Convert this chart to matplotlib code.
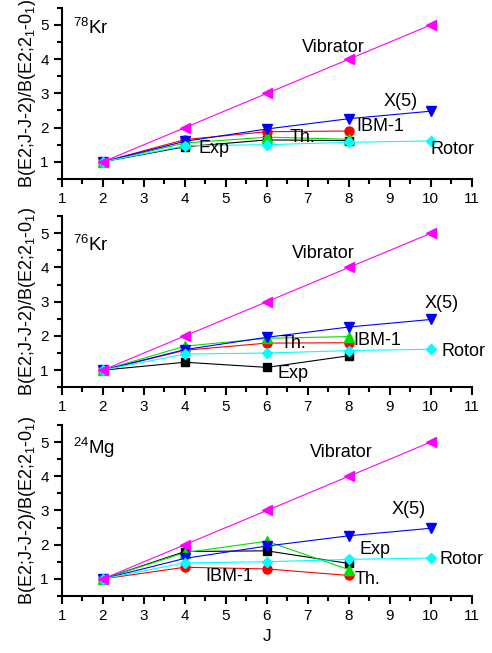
import matplotlib
matplotlib.use("Agg")
import matplotlib.pyplot as plt
from matplotlib.ticker import MultipleLocator

plt.rcParams['font.family'] = ['Liberation Sans', 'DejaVu Sans']
plt.rcParams['mathtext.fontset'] = 'custom'
plt.rcParams['mathtext.rm'] = 'Liberation Sans'
plt.rcParams['mathtext.it'] = 'Liberation Sans:italic'

J_exp = [2, 4, 6, 8]
J_lim = [2, 4, 6, 8, 10]

# model limits (same in every panel)
vibrator = [1, 2, 3, 4, 5]
x5 = [1, 1.60, 1.96, 2.26, 2.48]
rotor = [1, 1.47, 1.50, 1.57, 1.61]

# 78Kr
kr78_exp = [1, 1.44, 1.64, 1.62]
kr78_ibm = [1, 1.65, 1.88, 1.90]
kr78_th = [1, 1.55, 1.72, 1.66]

# 76Kr
kr76_exp = [1, 1.23, 1.08, 1.42]
kr76_ibm = [1, 1.58, 1.79, 1.80]
kr76_th = [1, 1.70, 1.93, 1.98]

# 24Mg
mg24_exp = [1, 1.80, 1.82, 1.45]
mg24_ibm = [1, 1.34, 1.29, 1.10]
mg24_th = [1, 1.77, 2.10, 1.27]

panels = [
    (r'$^{78}$Kr', 4.92, kr78_exp, kr78_ibm, kr78_th,
     [('Vibrator', 6.85, 4.35), ('X(5)', 8.84, 2.75), ('IBM-1', 8.19, 2.02),
      ('Th.', 6.56, 1.71), ('Rotor', 10.0, 1.37), ('Exp', 4.32, 1.39)]),
    (r'$^{76}$Kr', 4.65, kr76_exp, kr76_ibm, kr76_th,
     [('Vibrator', 6.6, 4.41), ('X(5)', 9.84, 2.95), ('IBM-1', 8.1, 1.88),
      ('Th.', 6.33, 1.79), ('Rotor', 10.26, 1.54), ('Exp', 6.25, 0.91)]),
    (r'$^{24}$Mg', 4.82, mg24_exp, mg24_ibm, mg24_th,
     [('Vibrator', 7.05, 4.69), ('X(5)', 9.04, 3.02), ('Exp', 8.25, 1.87),
      ('Th.', 8.15, 0.98), ('Rotor', 10.22, 1.56), ('IBM-1', 4.51, 1.08)]),
]

fig = plt.figure(figsize=(4.92, 6.53), dpi=100)
bottoms = [0.726, 0.407, 0.0873]

for (name, ny, exp, ibm, th, labels), b in zip(panels, bottoms):
    ax = fig.add_axes([0.126, b, 0.833, 0.262])
    ms = 6.5
    ax.plot(J_exp, exp, 's-', color='black', lw=0.8, ms=ms - 0.5)
    ax.plot(J_exp, ibm, 'o-', color='red', lw=0.8, ms=ms)
    ax.plot(J_exp, th, '^-', color='#00e000', lw=0.8, ms=ms)
    ax.plot(J_lim, x5, 'v-', color='blue', lw=0.8, ms=ms)
    ax.plot(J_lim, rotor, 'D-', color='cyan', lw=0.8, ms=ms - 1)
    ax.plot(J_lim, vibrator, '<-', color='magenta', lw=0.8, ms=ms + 1)

    for txt, x, y in labels:
        ax.text(x, y, txt, fontsize=13, ha='left', va='center')
    ax.text(1.27, ny, name, fontsize=13.5, ha='left', va='center')

    ax.set_xlim(1, 11)
    ax.set_ylim(0.5, 5.5)
    ax.xaxis.set_major_locator(MultipleLocator(1))
    ax.xaxis.set_minor_locator(MultipleLocator(0.5))
    ax.yaxis.set_major_locator(MultipleLocator(1))
    ax.yaxis.set_minor_locator(MultipleLocator(0.5))
    ax.set_yticks([1, 2, 3, 4, 5])
    for s in ['top', 'right']:
        ax.spines[s].set_visible(False)
    for s in ['left', 'bottom']:
        ax.spines[s].set_linewidth(1.5)
    ax.tick_params(which='major', direction='out', length=6, width=1.5, labelsize=11)
    ax.tick_params(which='minor', direction='out', length=3.5, width=1.5)
    ax.set_ylabel(r'B(E2;J-J-2)/B(E2;2$_1$-0$_1$)', fontsize=13, labelpad=2)

ax.set_xlabel('J', fontsize=12.5)

fig.savefig('out.png', dpi=100)
